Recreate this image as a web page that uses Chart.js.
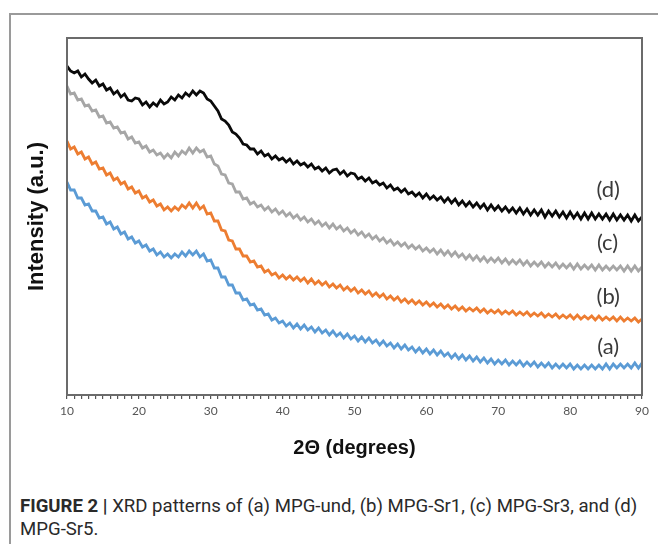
<!DOCTYPE html>
<html>
<head>
<meta charset="utf-8">
<script src="https://cdn.jsdelivr.net/npm/chart.js@4"></script>
<style>
    body { margin: 0; background: #fff; }
    #wrap { position: relative; width: 658px; height: 544px; overflow: hidden; }
    #frame { position: absolute; left: 9px; top: 13px; width: 700px; height: 600px;
             border-left: 2px solid #9a9a9a; border-top: 2px solid #9a9a9a; }
    #chartBox { position: absolute; left: 0; top: 0; width: 658px; height: 480px; }
    #caption { position: absolute; left: 20px; top: 495px; width: 636px;
               font-family: Roboto, "Liberation Sans", sans-serif; font-size: 18.6px;
               line-height: 23px; color: #2a2a2a; }
    #caption b { font-weight: 700; }
</style>
</head>
<body>
<div id="wrap">
    <div id="frame"></div>
    <div id="chartBox"><canvas id="xrdChart"></canvas></div>
    <div id="caption"><b>FIGURE 2 |</b> XRD patterns of (a) MPG-und, (b) MPG-Sr1, (c) MPG-Sr3, and (d) MPG-Sr5.</div>
</div>
<script>
// 2theta sampling, 10..90 deg every 0.5 deg
const angles = [];
for (let a = 10; a <= 90; a += 0.5) angles.push(a);

// intensities (a.u.), one value per half degree
const sr5 = [329,324,322,324,318,321,316,312,315,309,311,305,307,301,304,298,301,295,294,297,
    296,290,293,288,292,289,295,291,293,298,295,300,297,302,299,304,300,304,302,296,
    294,289,284,276,274,270,263,261,257,251,250,246,246,241,244,239,241,236,239,235,
    237,233,236,231,234,230,232,228,231,226,228,224,227,222,225,226,221,224,219,222,
    221,216,218,214,217,212,214,210,212,207,210,205,207,203,206,201,203,199,202,197,
    201,196,199,195,198,193,197,192,196,190,194,189,193,188,192,187,191,185,190,185,
    189,184,188,183,187,182,187,181,186,180,185,180,185,178,184,179,184,178,183,177,
    183,177,182,176,182,176,182,176,181,176,181,175,181,175,180,175,180,174,180,174,178];
const sr3 = [309,301,302,295,296,289,290,284,285,278,279,272,273,267,268,262,263,256,258,252,
    253,247,249,243,245,240,242,237,241,237,243,239,244,241,247,242,247,243,245,238,
    239,231,229,221,220,212,211,203,203,196,197,191,193,188,190,185,188,183,186,181,
    184,179,182,177,180,175,178,173,176,171,174,169,172,167,171,166,169,164,167,162,
    165,160,163,158,161,156,159,154,157,152,155,150,153,149,152,147,150,146,149,144,
    147,143,146,141,145,140,144,139,143,138,141,136,140,135,139,134,138,133,137,133,
    137,132,136,131,135,131,135,130,134,129,133,129,133,128,132,128,132,127,131,127,
    131,126,131,126,130,126,130,125,130,125,129,125,129,125,129,124,129,124,129,124,128];
const sr1 = [254,246,248,241,243,236,238,231,233,226,227,220,222,215,217,211,213,206,208,202,
    204,197,199,193,195,189,191,185,188,184,188,185,190,187,192,187,192,186,189,181,
    182,174,174,165,164,155,154,146,146,139,139,133,134,128,129,123,125,120,122,117,
    120,116,119,115,118,114,117,112,116,111,114,110,113,108,111,107,110,105,108,104,
    107,102,105,101,104,99,102,98,101,96,99,95,98,93,96,92,95,91,94,90,
    93,89,92,88,91,87,90,86,89,85,88,84,87,84,87,83,86,82,85,82,
    85,81,84,81,84,80,83,80,83,79,82,79,82,78,81,78,81,77,80,77,
    80,76,80,76,79,76,79,75,79,75,78,75,78,74,78,74,77,74,77,73,76];
const und = [213,205,205,197,197,190,191,184,184,177,178,171,173,166,168,161,163,156,158,152,
    154,148,150,144,146,140,143,138,141,137,141,138,143,139,144,140,144,138,141,134,
    135,127,127,118,118,110,110,102,102,95,96,90,91,85,86,80,81,75,77,72,
    74,69,72,67,71,66,70,65,68,63,67,62,65,60,64,59,62,57,61,56,
    59,54,58,53,57,52,55,50,54,49,52,47,51,46,50,45,48,43,47,42,
    46,41,45,40,44,39,42,37,41,36,40,35,39,34,38,33,37,32,36,31,
    35,31,35,30,34,30,34,29,33,29,33,28,32,28,32,27,31,27,31,27,
    31,26,30,26,30,26,30,26,30,26,31,26,31,27,31,27,31,27,32,27,32];

const seriesNames = ['(d)', '(c)', '(b)', '(a)'];
const seriesData = [sr5, sr3, sr1, und];
const seriesColors = ['#0a0a0a', '#a6a6a6', '#ed7d31', '#5b9bd5'];

// curve labels, placed in data units
const labelAngle = [85.3, 85.2, 85.3, 85.3];
const labelLevel = [205, 152, 98, 48];

const xTicks = [10, 20, 30, 40, 50, 60, 70, 80, 90];

const plotBox = {
    id: 'plotBox',
    afterDraw(chart) {
        const { ctx, chartArea: a, scales } = chart;
        ctx.save();
        ctx.strokeStyle = '#6b6b6b';
        ctx.lineWidth = 2;
        ctx.strokeRect(a.left, a.top, a.right - a.left, a.bottom - a.top);
        ctx.fillStyle = '#3a3a3a';
        ctx.font = '22px Lato, "Open Sans", sans-serif';
        ctx.textAlign = 'center';
        ctx.textBaseline = 'middle';
        for (let i = 0; i < seriesNames.length; i++) {
            ctx.fillText(seriesNames[i],
                scales.x.getPixelForValue(labelAngle[i]),
                scales.y.getPixelForValue(labelLevel[i]));
        }
        ctx.restore();
    }
};

const datasets = [];
for (let i = 0; i < seriesData.length; i++) {
    datasets.push({
        label: seriesNames[i],
        data: seriesData[i].map((v, k) => ({ x: angles[k], y: v })),
        borderColor: seriesColors[i],
        borderWidth: 2.8,
        pointRadius: 0,
        tension: 0
    });
}

const ctx = document.getElementById('xrdChart').getContext('2d');

new Chart(ctx, {
    type: 'line',
    data: { datasets: datasets },
    options: {
        responsive: true,
        maintainAspectRatio: false,
        animation: false,
        layout: { padding: { top: 38, right: 16, left: 0, bottom: 0 } },
        plugins: {
            legend: { display: false },
            tooltip: { enabled: false }
        },
        scales: {
            x: {
                type: 'linear',
                min: 10,
                max: 90,
                border: { display: true, color: '#555', width: 2 },
                grid: { drawOnChartArea: false, drawTicks: true, tickLength: 4, color: '#555', lineWidth: 1.2 },
                ticks: {
                    stepSize: 1,
                    autoSkip: false,
                    maxRotation: 0,
                    padding: 5,
                    color: '#555',
                    font: { family: 'Lato, "Open Sans", sans-serif', size: 12 },
                    callback: (v) => xTicks.includes(v) ? String(v) : ''
                },
                title: {
                    display: true,
                    text: '2Θ (degrees)',
                    color: '#111',
                    font: { family: '"Liberation Sans", Arial, sans-serif', size: 20, weight: 'bold' },
                    padding: { top: 0, bottom: 20 }
                },
                afterFit: (s) => { s.height = 85; }
            },
            y: {
                min: 0,
                max: 357,
                border: { display: true, color: '#555', width: 2 },
                grid: { display: false },
                ticks: { display: false },
                title: {
                    display: true,
                    text: 'Intensity (a.u.)',
                    color: '#111',
                    font: { family: '"Liberation Sans", Arial, sans-serif', size: 22, weight: 'bold' },
                    padding: { top: 24 }
                },
                afterFit: (s) => { s.width = 67; }
            }
        }
    },
    plugins: [plotBox]
});
</script>
</body>
</html>
